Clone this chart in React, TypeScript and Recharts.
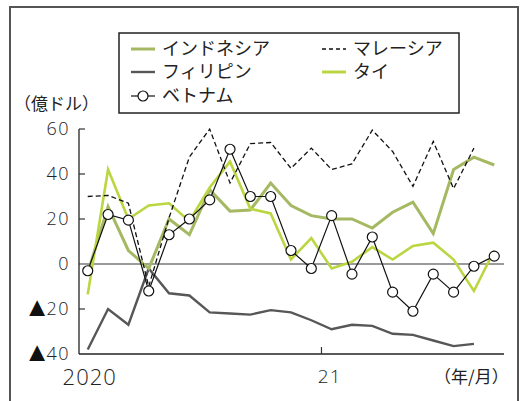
import { Line, LineChart, ReferenceLine, XAxis, YAxis } from "recharts";

// 2020/1 .. 2021/9, monthly
const months = [
  "2020/1", "2020/2", "2020/3", "2020/4", "2020/5", "2020/6", "2020/7", "2020/8", "2020/9", "2020/10", "2020/11", "2020/12",
  "2021/1", "2021/2", "2021/3", "2021/4", "2021/5", "2021/6", "2021/7", "2021/8", "2021/9",
];

const indonesia = [-4, 25.5, 6, -2, 20, 13, 33, 23.5, 24, 36, 26, 21.5, 20, 20, 16, 23, 27.5, 13.5, 42, 47.5, 44];
const malaysia = [30, 30.5, 27, -10, 20.5, 47.5, 60, 36, 53.5, 54, 42.5, 51.5, 42, 44.5, 59.5, 50, 34.5, 54.5, 33.5, 51.5, null];
const philippines = [-38, -20, -27, -2, -13, -14, -21.5, -22, -22.5, -20.5, -21.5, -25, -29, -27, -27.5, -31, -31.5, -34, -36.5, -35.5, null];
const thai = [-13.5, 42, 20, 26, 27, 19, 34, 45.5, 24.5, 22.5, 2, 11.5, -2, 1, 7.5, 2, 8, 9.5, 2, -12, 6];
const vietnam = [-3, 22, 19.5, -12, 13, 20, 28.5, 51, 30, 30, 6, -2, 21.5, -4.5, 12, -12.5, -21, -4.5, -12.5, -1, 3.5];

const yTicks = [-40, -20, 0, 20, 40, 60];
const xLabelTicks = [0, 12];
const xLabels = ["2020", "21"];
const yearBoundary = 11.5;

const data = months.map((month, i) => ({
  i,
  month,
  indonesia: indonesia[i],
  malaysia: malaysia[i],
  philippines: philippines[i],
  thai: thai[i],
  vietnam: vietnam[i],
}));

const OLIVE = "#a5b862";
const LIME = "#bad641";
const GRAY = "#575757";

const JP = "'Noto Sans CJK JP', sans-serif";
const NUM = "'Open Sans', sans-serif";

function YTick(props: any) {
  const { x, y, payload } = props;
  const v: number = payload.value;
  return (
    <g>
      {v !== -40 && v !== 0 && <line x1={x} x2={x + 6} y1={y} y2={y} stroke="#333" strokeWidth={1.2} />}
      <text x={x - 9} y={y + 6} textAnchor="end" fontFamily={NUM} fontWeight={300} fontSize={18} fill="#222">
        {v < 0 && (
          <tspan fontFamily="'DejaVu Sans', sans-serif" fontSize={27} dy={1} fill="#111">
            ▲
          </tspan>
        )}
        <tspan letterSpacing={1.5} dy={v < 0 ? -1 : 0} dx={v < 0 ? -4 : 0}>
          {Math.abs(v)}
        </tspan>
      </text>
    </g>
  );
}

function XTick(props: any) {
  const { x, y, payload } = props;
  if (payload.value === yearBoundary) {
    return <line x1={x} x2={x} y1={y} y2={y - 7} stroke="#333" strokeWidth={1.2} />;
  }
  const idx = xLabelTicks.indexOf(payload.value);
  const big = idx === 0;
  return (
    <text x={x + (big ? 2 : -2)} y={y + 22} textAnchor="middle" dominantBaseline="central" fontFamily={NUM} fontWeight={300} fontSize={big ? 22 : 19} letterSpacing={1} fill="#222">
      {xLabels[idx]}
    </text>
  );
}

type LegendItem = { name: string; color: string; width: number; dash?: string; dot?: boolean; col: number; row: number };

const legendItems: LegendItem[] = [
  { name: "インドネシア", color: OLIVE, width: 3, col: 0, row: 0 },
  { name: "フィリピン", color: GRAY, width: 2.4, col: 0, row: 1 },
  { name: "ベトナム", color: "#111", width: 1.2, dot: true, col: 0, row: 2 },
  { name: "マレーシア", color: "#111", width: 1.3, dash: "4 3", col: 1, row: 0 },
  { name: "タイ", color: LIME, width: 3, col: 1, row: 1 },
];

function LegendBox() {
  const colX = [13, 204];
  const rowY = [17, 40, 64];
  return (
    <svg width={342} height={82} style={{ position: "absolute", left: 118, top: 32 }}>
      <rect x={1} y={1} width={340} height={80} fill="#fff" stroke="#222" strokeWidth={1.5} />
      {legendItems.map((it) => {
        const x0 = colX[it.col];
        const y0 = rowY[it.row];
        return (
          <g key={it.name}>
            <line x1={x0} x2={x0 + 24} y1={y0} y2={y0} stroke={it.color} strokeWidth={it.width} strokeDasharray={it.dash} />
            {it.dot && <circle cx={x0 + 12} cy={y0} r={5} fill="#fff" stroke="#111" strokeWidth={1.2} />}
            <text x={x0 + 31} y={y0 + 6} fontFamily={JP} fontSize={18} fill="#222">
              {it.name}
            </text>
          </g>
        );
      })}
    </svg>
  );
}

export default function App() {
  return (
    <div style={{ position: "absolute", left: 0, top: 0, width: 520, height: 401, background: "#fff", overflow: "hidden" }}>
      <div style={{ position: "absolute", left: 9, top: 6, width: 506, height: 420, border: "2px solid #555" }} />
      <LineChart width={520} height={401} data={data} margin={{ top: 129, right: 16, bottom: 17, left: 10 }} style={{ position: "absolute", left: 0, top: 0 }}>
        <XAxis
          dataKey="i"
          type="number"
          domain={[-0.43, 20.48]}
          ticks={[...xLabelTicks, yearBoundary]}
          interval={0}
          height={30}
          tickSize={0}
          tickMargin={0}
          tickLine={false}
          tick={<XTick />}
          axisLine={{ stroke: "#222", strokeWidth: 1.3 }}
        />
        <YAxis
          domain={[-40, 60]}
          ticks={yTicks}
          interval={0}
          width={69}
          tickSize={0}
          tickMargin={0}
          tickLine={false}
          tick={<YTick />}
          axisLine={{ stroke: "#222", strokeWidth: 1.3 }}
        />
        <ReferenceLine y={0} stroke="#7a7a7a" strokeWidth={1.6} />
        <Line dataKey="philippines" stroke={GRAY} strokeWidth={2.4} dot={false} isAnimationActive={false} />
        <Line dataKey="indonesia" stroke={OLIVE} strokeWidth={3} dot={false} isAnimationActive={false} />
        <Line dataKey="thai" stroke={LIME} strokeWidth={2.6} dot={false} isAnimationActive={false} />
        <Line dataKey="malaysia" stroke="#111" strokeWidth={1.3} strokeDasharray="5 3" dot={false} isAnimationActive={false} />
        <Line
          dataKey="vietnam"
          stroke="#111"
          strokeWidth={1.2}
          dot={{ r: 5, fill: "#fff", stroke: "#111", strokeWidth: 1.2 }}
          isAnimationActive={false}
        />
      </LineChart>
      <LegendBox />
      <div style={{ position: "absolute", left: 14, top: 91, fontFamily: JP, fontSize: 17, color: "#222", lineHeight: "24px" }}>（億ドル）</div>
      <div style={{ position: "absolute", left: 434, top: 364, fontFamily: JP, fontSize: 17, color: "#222", lineHeight: "24px" }}>（年/月）</div>
    </div>
  );
}
